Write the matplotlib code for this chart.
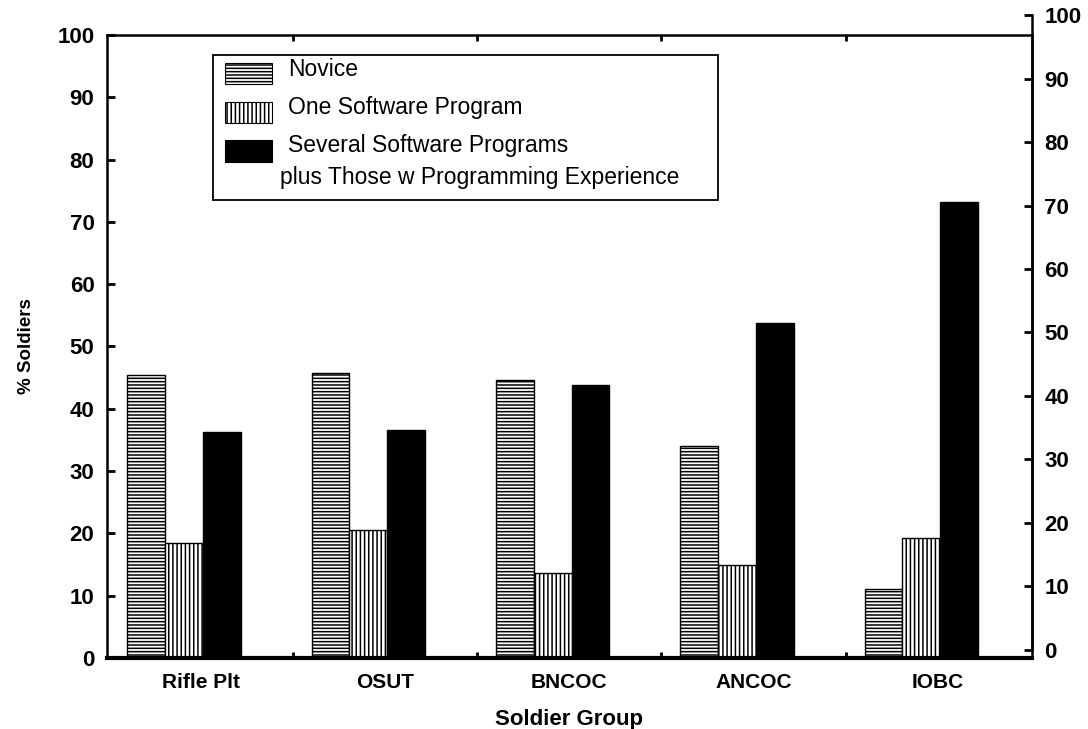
#Grouped bar chart of computer experience by soldier group, drawn to look like the scanned report figure

#region IMPORTING REQUIRED LIBRARIES

import numpy as np;
import matplotlib;
matplotlib.use("Agg");
import matplotlib.pyplot as plt;
from matplotlib.patches import Rectangle;

#endregion

#region DATA

groups = ["Rifle Plt", "OSUT", "BNCOC", "ANCOC", "IOBC"]; #Soldier groups on the x axis
novice = [45.4, 45.7, 44.6, 34.0, 11.1]; #% Novice
oneProgram = [18.5, 20.5, 13.6, 14.9, 19.3]; #% One Software Program
severalPrograms = [36.3, 36.6, 43.8, 53.8, 73.2]; #% Several Software Programs plus programming experience
yTicks = [0, 10, 20, 30, 40, 50, 60, 70, 80, 90, 100];
legendLabels = ["Novice", "One Software Program", "Several Software Programs", "plus Those w Programming Experience"];

#endregion

#region PLOT

plt.rcParams['font.family'] = ['Liberation Sans', 'DejaVu Sans'];
plt.rcParams['hatch.linewidth'] = 1.1;
plt.rcParams['xtick.direction'] = 'in';
plt.rcParams['ytick.direction'] = 'in';

fig = plt.figure(figsize=(10.88, 7.29), dpi=100);
ax = fig.add_axes([0.0983, 0.0974, 0.8502, 0.8546]); #Main axes, left scale
axRight = fig.add_axes([0.0983, 0.1084, 0.8502, 0.8710]); #Right scale sits a little higher in the scan
axRight.patch.set_visible(False);

x = np.arange(len(groups));
width = 0.205;
shift = -0.09; #Bar groups sit slightly left of their labels
ax.bar(x + shift - width, novice, width, color="white", edgecolor="black", hatch="-----", linewidth=1.0);
ax.bar(x + shift, oneProgram, width, color="white", edgecolor="black", hatch="||||", linewidth=1.0);
ax.bar(x + shift + width, severalPrograms, width, color="black", edgecolor="black", linewidth=1.0);

ax.set_xlim(-0.508, 4.51);
ax.set_ylim(0, 100);
ax.set_xticks(x);
ax.set_xticklabels(groups, fontsize=15, fontweight="bold");
ax.tick_params(axis="x", which="major", length=0, pad=11);
ax.set_xticks(x[:-1] + 0.5, minor=True); #Small marks between the groups
ax.tick_params(axis="x", which="minor", direction="in", length=4, width=2, top=True, bottom=True);
ax.set_yticks(yTicks);
ax.set_yticklabels([str(t) for t in yTicks], fontsize=16, fontweight="bold");
ax.tick_params(axis="y", which="both", direction="in", length=6, width=2, pad=9, left=True, right=False);
for side in ["left", "top", "right"]:
    ax.spines[side].set_linewidth(1.8);
ax.spines["bottom"].set_linewidth(3);
ax.set_xlabel("Soldier Group", fontsize=16, fontweight="bold", labelpad=12);
ax.set_ylabel("% Soldiers", fontsize=13.5, fontweight="bold", labelpad=16);

#Right hand scale
axRight.set_ylim(0, 100);
axRight.set_xlim(ax.get_xlim());
axRight.set_xticks([]);
axRight.set_yticks(yTicks);
axRight.yaxis.tick_right();
axRight.set_yticklabels([str(t) for t in yTicks], fontsize=16, fontweight="bold");
axRight.tick_params(axis="y", which="both", direction="in", length=6, width=2, pad=9, left=False, right=True);
for side in ["left", "top", "bottom"]:
    axRight.spines[side].set_visible(False);
axRight.spines["right"].set_linewidth(1.8);

#endregion

#region LEGEND (drawn by hand so the two line entry matches)

ax.add_patch(Rectangle((0.1146, 0.735), 0.546, 0.233, transform=ax.transAxes, facecolor="white", edgecolor="black", linewidth=1.3, zorder=5));
ax.add_patch(Rectangle((0.1276, 0.921), 0.0508, 0.0337, transform=ax.transAxes, facecolor="white", edgecolor="black", hatch="-----", linewidth=0.8, zorder=6));
ax.add_patch(Rectangle((0.1276, 0.859), 0.0508, 0.0337, transform=ax.transAxes, facecolor="white", edgecolor="black", hatch="||||", linewidth=0.8, zorder=6));
ax.add_patch(Rectangle((0.1276, 0.796), 0.0508, 0.0353, transform=ax.transAxes, facecolor="black", edgecolor="black", linewidth=0.8, zorder=6));
ax.text(0.1957, 0.944, legendLabels[0], transform=ax.transAxes, fontsize=16.5, va="center", ha="left", zorder=7);
ax.text(0.1957, 0.883, legendLabels[1], transform=ax.transAxes, fontsize=16.5, va="center", ha="left", zorder=7);
ax.text(0.1957, 0.823, legendLabels[2], transform=ax.transAxes, fontsize=16.5, va="center", ha="left", zorder=7);
ax.text(0.187, 0.772, legendLabels[3], transform=ax.transAxes, fontsize=16.5, va="center", ha="left", zorder=7);

#endregion

fig.savefig("out.png", dpi=100);
